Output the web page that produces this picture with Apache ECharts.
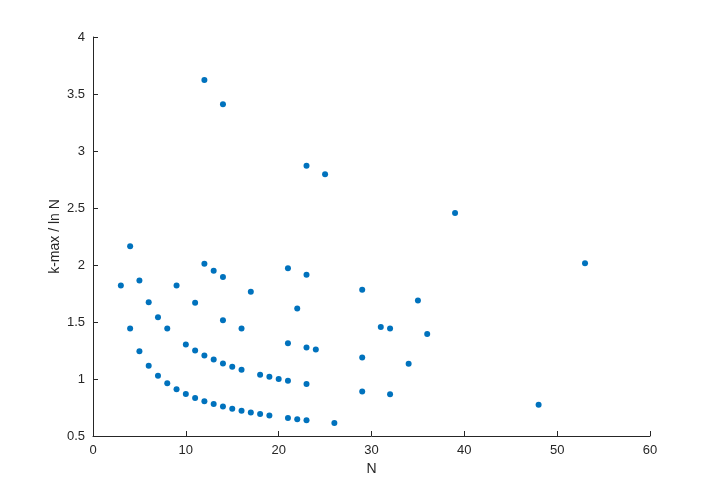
<!DOCTYPE html>
<html>
<head>
<meta charset="utf-8">
<script src="https://cdn.jsdelivr.net/npm/echarts@6/dist/echarts.min.js"></script>
<style>
  html, body { margin: 0; padding: 0; background: #fff; }
  #chart { width: 718px; height: 491px; }
</style>
</head>
<body>
<div id="chart"></div>
<script>
// N values and matching k-max / ln N readings
var nValues = [
  3, 4, 4, 5, 5, 6, 6, 7, 7, 8, 8, 9, 9, 10, 10,
  11, 11, 11, 12, 12, 12, 12, 13, 13, 13,
  14, 14, 14, 14, 14, 15, 15, 16, 16, 16, 17, 17,
  18, 18, 19, 19, 20, 21, 21, 21, 21, 22, 22,
  23, 23, 23, 23, 23, 24, 25, 26,
  29, 29, 29, 31, 32, 32, 34, 35, 36, 39, 48, 53
];
var ratioValues = [
  1.82, 2.164, 1.443, 1.864, 1.243, 1.674, 1.116, 1.542, 1.028, 1.443, 0.962, 1.82, 0.91, 1.303, 0.869,
  1.668, 1.251, 0.834, 3.622, 2.012, 1.207, 0.805, 1.949, 1.17, 0.78,
  3.41, 1.895, 1.516, 1.137, 0.758, 1.108, 0.739, 1.443, 1.082, 0.721, 1.765, 0.706,
  1.038, 0.692, 1.019, 0.679, 1.001, 1.971, 1.314, 0.985, 0.657, 1.618, 0.647,
  2.87, 1.914, 1.276, 0.957, 0.638, 1.259, 2.796, 0.614,
  1.782, 1.188, 0.891, 1.456, 1.443, 0.866, 1.134, 1.688, 1.395, 2.457, 0.775, 2.015
];
var xTicks = [0, 10, 20, 30, 40, 50, 60];
var yTicks = [0.5, 1, 1.5, 2, 2.5, 3, 3.5, 4];

var points = nValues.map(function (n, i) { return [n, ratioValues[i]]; });

var chart = echarts.init(document.getElementById('chart'));
var axisColor = '#262626';
var font = 'Liberation Sans, Arial, Helvetica, sans-serif';

var option = {
  animation: false,
  backgroundColor: '#ffffff',
  grid: { left: 93, right: 68, top: 37, bottom: 55 },
  xAxis: {
    type: 'value',
    min: xTicks[0],
    max: xTicks[xTicks.length - 1],
    interval: 10,
    name: 'N',
    nameLocation: 'middle',
    nameGap: 25,
    nameTextStyle: { color: axisColor, fontSize: 14, fontFamily: font },
    axisLine: { show: true, lineStyle: { color: axisColor, width: 1 } },
    axisTick: { show: true, inside: true, length: 5, lineStyle: { color: axisColor } },
    axisLabel: { color: axisColor, fontSize: 13, fontFamily: font, margin: 8 },
    splitLine: { show: false }
  },
  yAxis: {
    type: 'value',
    min: yTicks[0],
    max: yTicks[yTicks.length - 1],
    interval: 0.5,
    name: 'k-max / ln N',
    nameLocation: 'middle',
    nameRotate: 90,
    nameGap: 31,
    nameMoveOverlap: false,
    nameTextStyle: { color: axisColor, fontSize: 14, fontFamily: font },
    axisLine: { show: true, lineStyle: { color: axisColor, width: 1 } },
    axisTick: { show: true, inside: true, length: 5, lineStyle: { color: axisColor } },
    axisLabel: { color: axisColor, fontSize: 13, fontFamily: font, margin: 8 },
    splitLine: { show: false }
  },
  series: [{
    type: 'scatter',
    data: points,
    symbol: 'circle',
    symbolSize: 6,
    itemStyle: { color: '#0072BD', opacity: 1 }
  }]
};
chart.setOption(option);
</script>
</body>
</html>
